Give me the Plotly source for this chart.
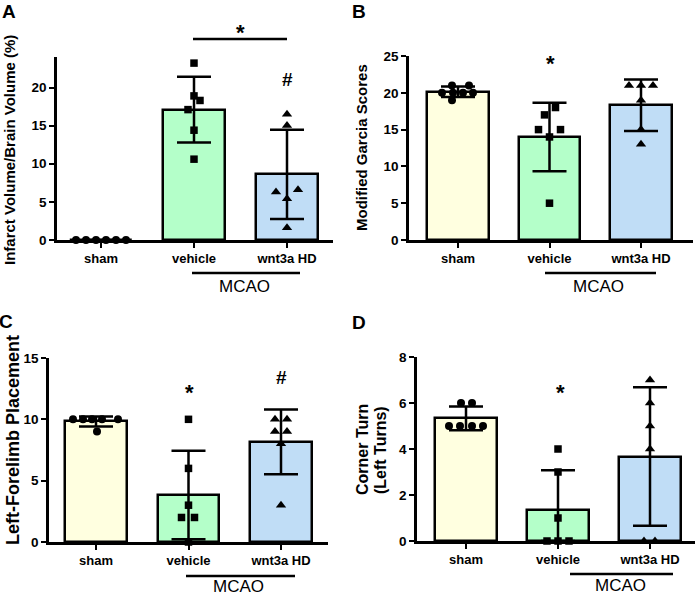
import plotly.graph_objects as go

# ---------------- data ----------------
groups = ["sham", "vehicle", "wnt3a HD"]

# Panel A: Infarct volume (%)
A_sham = [0, 0, 0, 0, 0, 0]
A_vehicle = [23.2, 18.9, 18.3, 17.1, 14.4, 10.6]
A_wnt = [16.5, 15.0, 6.6, 6.3, 5.4, 1.6]
A_mean = [0, 17.1, 8.6]
A_sd = [0, 4.3, 5.85]

# Panel B: Modified Garcia scores
B_sham = [21, 21, 20, 20, 20, 20, 19]
B_vehicle = [18, 17, 15, 15, 14, 5]
B_wnt = [21, 21, 21, 19, 15, 13]
B_mean = [20.14, 14.0, 18.3]
B_sd = [0.7, 4.65, 3.5]

# Panel C: Left-forelimb placement
C_sham = [10, 10, 10, 10, 10, 9]
C_vehicle = [10, 6, 3, 2, 2, 0]
C_wnt = [10, 10, 9, 9, 8, 3]
C_mean = [9.83, 3.83, 8.17]
C_sd = [0.41, 3.6, 2.64]

# Panel D: Corner turn (left turns)
D_sham = [6, 6, 5, 5, 5, 5]
D_vehicle = [4, 3, 1, 0, 0, 0]
D_wnt = [7, 6, 5, 4, 0, 0]
D_mean = [5.33, 1.33, 3.67]
D_sd = [0.52, 1.75, 3.01]

y_ticks_A = [0, 5, 10, 15, 20]
y_ticks_B = [0, 5, 10, 15, 20, 25]
y_ticks_C = [0, 5, 10, 15]
y_ticks_D = [0, 2, 4, 6, 8]

# horizontal scatter spread of the dots (pixels), as drawn by the original
A_dx = [[-25, -15, -5, 5, 15, 25], [0, 0, 6, -6, 0, 0], [0, 0, 11, -11, 0, 0]]
B_dx = [[-6, 11, -16, -5, 5, 15, -6], [6, -5, -11, 11, 0, 0], [-12, 0, 12, 0, 0, 0]]
C_dx = [[-23, -13, -4, 6, 22, 1], [0, 0, 0, -7, 6, 0], [-6, 6, -6, 6, 0, 0]]
D_dx = [[-5, 6, -17, -6, 6, 17], [0, 0, 0, -11, 0, 11], [0, 0, 0, 0, -6, 5]]

# ---------------- styling ----------------
W, H = 700, 596
FONT = "Liberation Sans, Arial, Helvetica, sans-serif"
fills = ["#FFFFE0", "#B4FFC9", "#C0DDF6"]
symbols = ["circle", "square", "triangle-up"]
msizes = [8, 7.5, 9]


def px(x):
    return x / W


def py(y):
    return 1 - y / H


panels = [
    dict(pts=[A_sham, A_vehicle, A_wnt], mean=A_mean, sd=A_sd, dx=A_dx, ticks=y_ticks_A,
         yr=[0, 24], xpx=(57, 333), ypx=(240, 57), c0=101, unit=93),
    dict(pts=[B_sham, B_vehicle, B_wnt], mean=B_mean, sd=B_sd, dx=B_dx, ticks=y_ticks_B,
         yr=[0, 25], xpx=(409, 693), ypx=(240, 56), c0=458, unit=91.5),
    dict(pts=[C_sham, C_vehicle, C_wnt], mean=C_mean, sd=C_sd, dx=C_dx, ticks=y_ticks_C,
         yr=[0, 15], xpx=(49, 328), ypx=(542, 358), c0=96, unit=92.5),
    dict(pts=[D_sham, D_vehicle, D_wnt], mean=D_mean, sd=D_sd, dx=D_dx, ticks=y_ticks_D,
         yr=[0, 8], xpx=(417, 695), ypx=(541, 357), c0=466, unit=92),
]

fig = go.Figure()
layout = {}

for i, p in enumerate(panels):
    k = "" if i == 0 else str(i + 1)
    xa, ya = "x" + k, "y" + k
    xmin = -(p["c0"] - p["xpx"][0]) / p["unit"]
    xmax = (p["xpx"][1] - p["c0"]) / p["unit"]

    minus = [min(s, m) for s, m in zip(p["sd"], p["mean"])]
    fig.add_trace(go.Bar(
        x=[0, 1, 2], y=p["mean"], width=0.667, xaxis=xa, yaxis=ya,
        marker=dict(color=fills, line=dict(color="black", width=2.5)),
        error_y=dict(type="data", array=p["sd"], arrayminus=minus, symmetric=False,
                     color="black", thickness=2.5, width=17),
        showlegend=False, hoverinfo="skip",
    ))
    for g in range(3):
        vals = p["pts"][g]
        xs = [g + d / p["unit"] for d in p["dx"][g]]
        fig.add_trace(go.Scatter(
            x=xs, y=vals, mode="markers", xaxis=xa, yaxis=ya, cliponaxis=False,
            marker=dict(symbol=symbols[g], size=msizes[g], color="black",
                        line=dict(width=0)),
            showlegend=False, hoverinfo="skip",
        ))

    layout["xaxis" + k] = dict(
        domain=[px(p["xpx"][0]), px(p["xpx"][1])], range=[xmin, xmax],
        anchor=ya, showgrid=False, zeroline=False, showline=True, automargin=False,
        linecolor="black", linewidth=2.5, ticks="outside", ticklen=5,
        tickwidth=2, tickcolor="black", tickvals=[0, 1, 2], ticktext=groups,
        tickfont=dict(family=FONT, size=13, color="black", weight="bold"),
        fixedrange=True,
    )
    layout["yaxis" + k] = dict(
        domain=[py(p["ypx"][0]), py(p["ypx"][1])], range=p["yr"],
        anchor=xa, showgrid=False, zeroline=False, showline=True, automargin=False,
        linecolor="black", linewidth=2.5, ticks="outside", ticklen=5,
        tickwidth=2, tickcolor="black", tickvals=p["ticks"],
        tickfont=dict(family=FONT, size=13.5, color="black", weight="bold"),
        fixedrange=True,
    )

ann = []


def text(x, y, s, size, bold=True, angle=0):
    ann.append(dict(x=px(x), y=py(y), xref="paper", yref="paper", text=s,
                    showarrow=False, textangle=angle, xanchor="center", yanchor="middle",
                    font=dict(family=FONT, size=size, color="black",
                              weight="bold" if bold else "normal")))


# panel letters
text(9, 12, "A", 19)
text(359, 12, "B", 19)
text(6, 321, "C", 19)
text(359, 322, "D", 19)

# axis titles
text(9, 150, "Infarct Volume/Brain Volume (%)", 15, angle=-90)
text(362, 148, "Modified Garcia Scores", 15, angle=-90)
text(13, 440, "Left-Forelimb Placement", 18, angle=-90)
text(362, 450, "Corner Turn", 16, angle=-90)
text(380, 450, "(Left Turns)", 16, angle=-90)

# MCAO group labels
text(245, 287, "MCAO", 17, bold=False)
text(598, 287, "MCAO", 17, bold=False)
text(238, 586, "MCAO", 17, bold=False)
text(620, 585, "MCAO", 17, bold=False)

# significance marks
text(240, 33, "*", 22)
text(287, 79, "#", 19)
text(550, 63, "*", 22)
text(189, 392, "*", 22)
text(281, 377, "#", 19)
text(560, 392, "*", 22)

shapes = []
for (x0, x1, y) in [(192, 300, 273), (545, 656, 273), (186, 295, 576), (570, 673, 574),
                    (193, 287, 39)]:
    shapes.append(dict(type="line", xref="paper", yref="paper", x0=px(x0), x1=px(x1),
                       y0=py(y), y1=py(y), line=dict(color="black", width=2.5)))

fig.update_layout(
    template="none",
    width=W, height=H, margin=dict(l=0, r=0, t=0, b=0, pad=0),
    paper_bgcolor="white", plot_bgcolor="white",
    annotations=ann, shapes=shapes, bargap=0, **layout,
)

fig.write_html("out.html", config={"displayModeBar": False},
               post_script="document.body.style.margin='0px';document.body.style.padding='0px';")
